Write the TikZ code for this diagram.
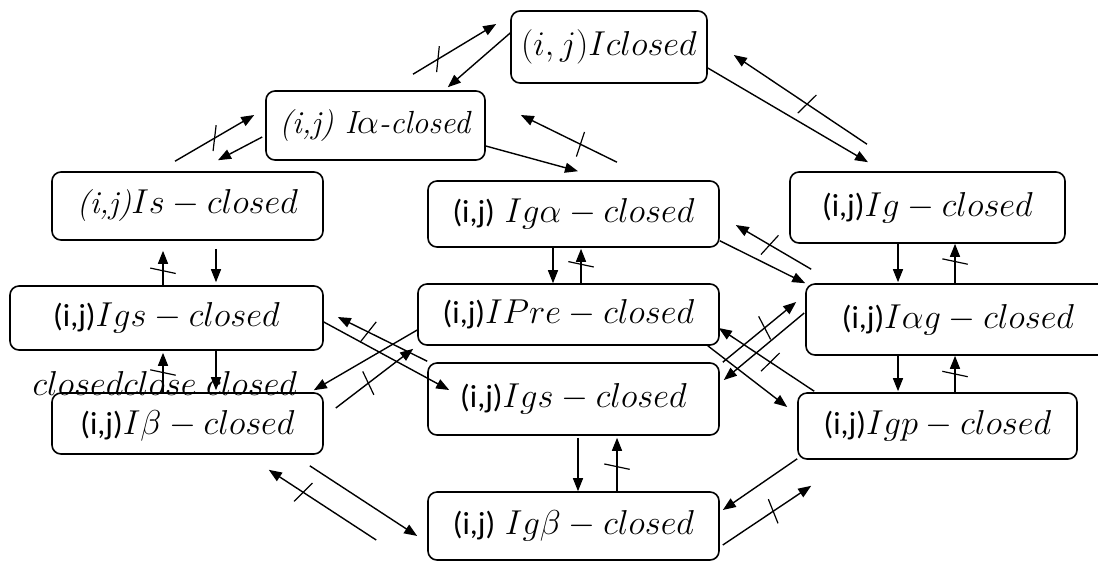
\documentclass[tikz,border=0pt]{standalone}
\usepackage{amsmath}
\usepackage{fontspec}
\newfontfamily\calibri{Carlito}
\usetikzlibrary{arrows.meta}

\begin{document}
\begin{tikzpicture}[x=0.5pt,y=-0.5pt,
    >={Triangle[length=6.5pt,width=5pt]},
    box/.style={draw, line width=0.8pt, rounded corners=4.5pt, inner sep=0pt,
        font=\fontsize{16}{19}\selectfont},
    link/.style={->, line width=0.7pt},
    notmark/.style={sloped, inner sep=0pt, rotate=-12}]
    \useasboundingbox (0,0) rectangle (1098,564);

    \node[box, minimum width=98pt, minimum height=36pt] (iclosed) at (609,47) {$(i,j)Iclosed$};
    \node[box, minimum width=109.5pt, minimum height=34.5pt] (ialpha) at (375.5,125.5) {\textit{(i,j) I$\alpha$-closed}};
    \node[box, minimum width=135.5pt, minimum height=34pt] (is) at (187.5,206) {\textit{(i,j)}$Is - closed$};
    \node[box, minimum width=145.5pt, minimum height=33pt] (igalpha) at (573.5,214) {{\calibri (i,j)} $Ig\alpha - closed$};
    \node[box, minimum width=137.5pt, minimum height=35.5pt] (ig) at (927.5,207.5) {{\calibri (i,j)}$Ig - closed$};
    \node[box, minimum width=156.5pt, minimum height=32pt] (igsl) at (166.5,318) {{\calibri (i,j)}$Igs - closed$\hspace{10pt}};
    \node[box, minimum width=150.5pt, minimum height=30.5pt] (ipre) at (568.5,314.5) {{\calibri (i,j)}$IPre - closed$};
    \node[box, minimum width=152pt, minimum height=35.5pt] (iag) at (958,319.5) {{\calibri (i,j)}$I\alpha g - closed$\hspace{17pt}};
    \node[box, minimum width=145.5pt, minimum height=36pt] (igsc) at (573.5,399) {{\calibri (i,j)}$Igs - closed$\hspace{12pt}};
    \node[box, minimum width=135.5pt, minimum height=30.5pt, text height=14pt] (ibeta) at (187.5,423.5) {{\calibri (i,j)}$I\beta - closed$};
    \node[box, minimum width=139.5pt, minimum height=33pt] (igp) at (937.5,426) {{\calibri (i,j)}$Igp - closed$};
    \node[box, minimum width=145.5pt, minimum height=34pt] (igbeta) at (573.5,526) {{\calibri (i,j)} $Ig\beta - closed$};
    \node[font=\fontsize{16}{19}\selectfont, inner sep=0pt] (stray) at (165,383) {$closedclose\ closed$};

    \draw[link] ([shift={(37.5,-16)}]ialpha.north) -- ([shift={(-14,-23)}]iclosed.west) node[notmark, pos=0.3, rotate=-25] {\rule{0.6pt}{13pt}};
    \draw[link] ([shift={(0,-14)}]iclosed.west) -- ([shift={(-38,-3)}]ialpha.north east);
    \draw[link] ([shift={(-12.5,-10)}]is.north) -- ([shift={(-11,-10.5)}]ialpha.west) node[notmark, pos=0.5, rotate=-25] {\rule{0.6pt}{13pt}};
    \draw[link] ([shift={(-3,11.5)}]ialpha.west) -- ([shift={(30.5,-11)}]is.north);
    \draw[link] ([shift={(0,20.5)}]ialpha.east) -- ([shift={(4.5,-9)}]igalpha.north);
    \draw[link] ([shift={(43.5,-18)}]igalpha.north) -- ([shift={(35,-10.5)}]ialpha.east) node[notmark, pos=0.38, rotate=20] {\rule{0.6pt}{13pt}};
    \draw[link] ([shift={(0,21)}]iclosed.east) -- ([shift={(-59.5,-9)}]ig.north);
    \draw[link] ([shift={(-60.5,-27)}]ig.north) -- ([shift={(26,8)}]iclosed.east) node[notmark, pos=0.45] {\rule{0.6pt}{13pt}};

    \draw[link] ([shift={(-3.5,0)}]igsl.north) -- ([shift={(-24.5,10)}]is.south) node[notmark, pos=0.42] {\rule{0.6pt}{13pt}};
    \draw[link] ([shift={(28.5,8)}]is.south) -- ([shift={(49.5,-3)}]igsl.north);
    \draw[link] ([shift={(-24.5,0)}]ibeta.north) -- ([shift={(-3.5,2)}]igsl.south) node[notmark, pos=0.5] {\rule{0.6pt}{13pt}};
    \draw[link] ([shift={(49.5,0)}]igsl.south) -- ([shift={(28.5,-2)}]ibeta.north);
    \draw[link] ([shift={(-20.5,0)}]igalpha.south) -- ([shift={(-15.5,0)}]ipre.north);
    \draw[link] ([shift={(12.5,0)}]ipre.north) -- ([shift={(7.5,1)}]igalpha.south) node[notmark, pos=0.55] {\rule{0.6pt}{13pt}};
    \draw[link] ([shift={(-29.5,0)}]ig.south) -- ([shift={(-60,-1)}]iag.north);
    \draw[link] ([shift={(-3,0)}]iag.north) -- ([shift={(27.5,0)}]ig.south) node[notmark, pos=0.55] {\rule{0.6pt}{13pt}};
    \draw[link] ([shift={(-60,0)}]iag.south) -- ([shift={(-39.5,-1)}]igp.north);
    \draw[link] ([shift={(17.5,0)}]igp.north) -- ([shift={(-3,0)}]iag.south) node[notmark, pos=0.5] {\rule{0.6pt}{13pt}};
    \draw[link] ([shift={(4.5,2)}]igsc.south) -- ([shift={(4.5,0)}]igbeta.north);
    \draw[link] ([shift={(43.5,0)}]igbeta.north) -- ([shift={(43.5,2)}]igsc.south) node[notmark, pos=0.46] {\rule{0.6pt}{13pt}};

    \draw[link] ([shift={(0,-7)}]igalpha.south east) -- (iag.north west);
    \draw[link] ([shift={(6,-14)}]iag.north west) -- ([shift={(16,11)}]igalpha.east) node[notmark, pos=0.55] {\rule{0.6pt}{13pt}};
    \draw[link] ([shift={(0,4)}]igsl.east) -- ([shift={(22,-9)}]igsc.west);
    \draw[link] ([shift={(0,-1)}]igsc.north west) -- ([shift={(14,-1)}]igsl.east) node[notmark, pos=0.66] {\rule{0.6pt}{13pt}};
    \draw[link] ([shift={(0,15.5)}]ipre.west) -- ([shift={(-10,-2)}]ibeta.north east);
    \draw[link] ([shift={(12,-15.5)}]ibeta.east) -- ([shift={(-4,3)}]ipre.south west) node[notmark, pos=0.42] {\rule{0.6pt}{13pt}};
    \draw[link] ([shift={(-12,0)}]ipre.south east) -- ([shift={(-10,-19)}]igp.west);
    \draw[link] ([shift={(17,-1)}]igp.north west) -- ([shift={(-1,13.5)}]ipre.east) node[notmark, pos=0.46] {\rule{0.6pt}{13pt}};
    \draw[link] ([shift={(-1,-6.5)}]iag.west) -- ([shift={(4,-19)}]igsc.east);
    \draw[link] ([shift={(3,0)}]igsc.north east) -- ([shift={(-9,-17.5)}]iag.west) node[notmark, pos=0.57] {\rule{0.6pt}{13pt}};
    \draw[link] ([shift={(-14,11)}]ibeta.south east) -- ([shift={(-10,10)}]igbeta.west);
    \draw[link] ([shift={(-51,14)}]igbeta.west) -- ([shift={(-55,15)}]ibeta.south east) node[notmark, pos=0.68] {\rule{0.6pt}{13pt}};
    \draw[link] ([shift={(0,-1)}]igp.south west) -- ([shift={(3,-16)}]igbeta.east);
    \draw[link] ([shift={(3,19)}]igbeta.east) -- ([shift={(14,26)}]igp.south west) node[notmark, pos=0.57] {\rule{0.6pt}{13pt}};
\end{tikzpicture}
\end{document}
